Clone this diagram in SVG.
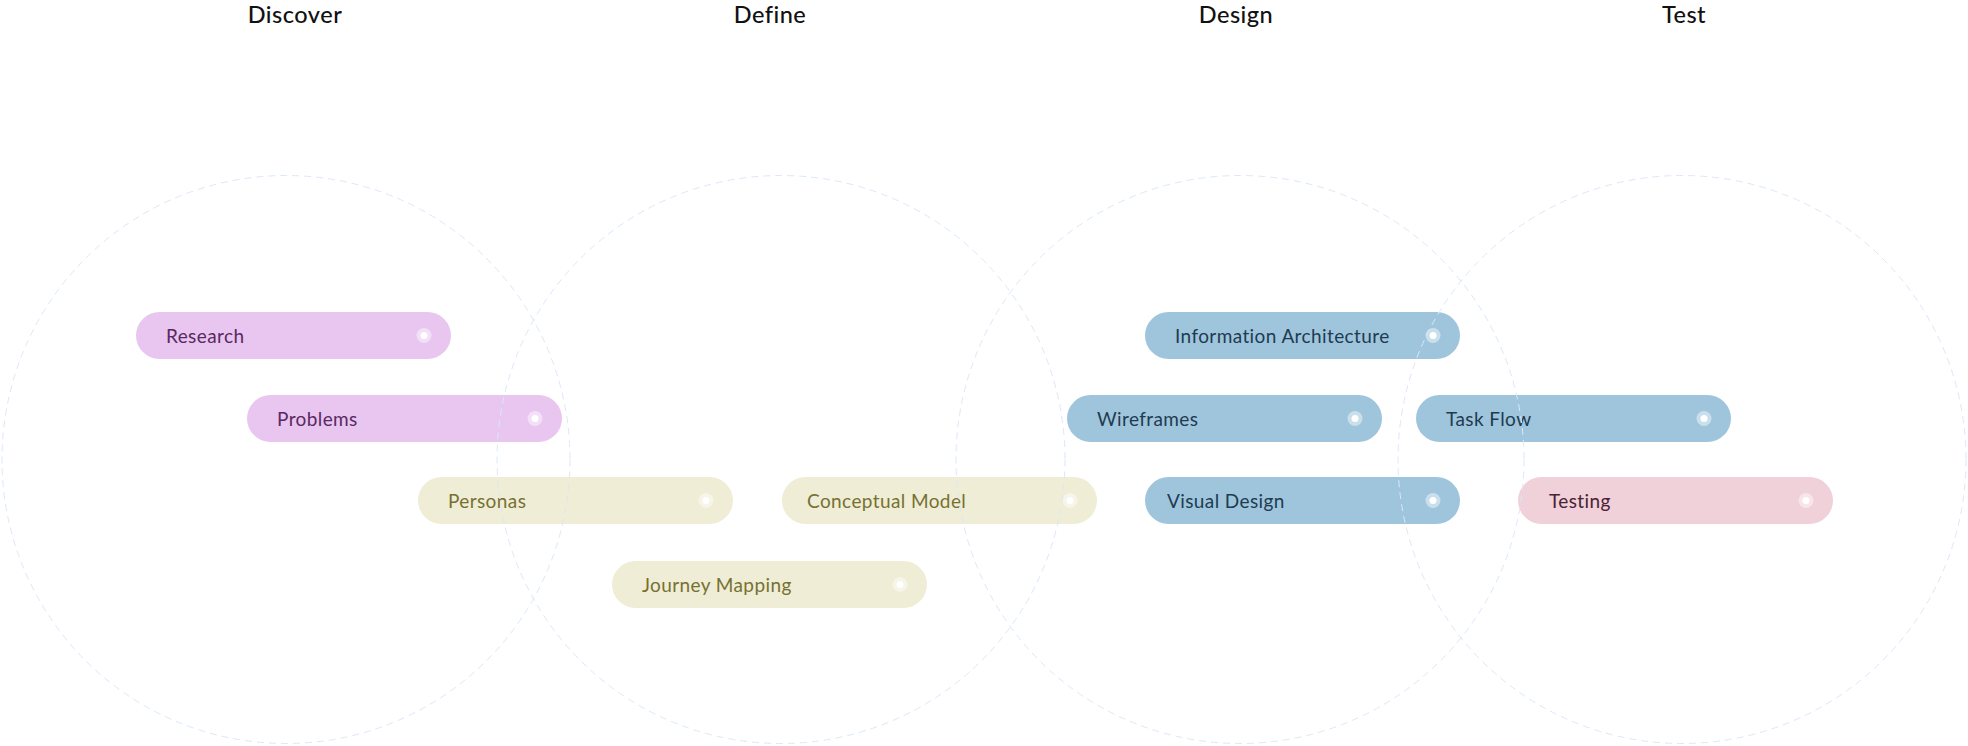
<svg xmlns="http://www.w3.org/2000/svg" width="1968" height="746" viewBox="0 0 1968 746">
<style>
.hdr{font-family:"Lato","Liberation Sans",sans-serif;font-size:23.5px;font-weight:500;letter-spacing:0.5px;fill:#111;text-anchor:middle}
.lbl{font-family:"Lato","Liberation Sans",sans-serif;font-size:19px;letter-spacing:0.4px}
.ring{fill:none;stroke:#dce8f8;stroke-width:1;stroke-dasharray:7 5}
.dotO{fill:#ffffff;fill-opacity:0.45}
.dotI{fill:#ffffff}
.p .bg{fill:#e8c6ef}.p text{fill:#5a2863}
.y .bg{fill:#efedd5}.y text{fill:#767132}
.b .bg{fill:#9fc5dc}.b text{fill:#1e3b52}
.k .bg{fill:#f0d0d9}.k text{fill:#4a2233}
</style>
<rect width="1968" height="746" fill="#ffffff"/>
<g id="headers">
<text class="hdr" x="295" y="23">Discover</text>
<text class="hdr" x="770" y="23">Define</text>
<text class="hdr" x="1236" y="23">Design</text>
<text class="hdr" x="1684" y="23">Test</text>
</g>
<g id="node-research" class="p"><rect class="bg" x="136" y="312" width="315" height="47" rx="23.5"/><text class="lbl" x="166" y="343">Research</text><circle class="dotO" cx="424" cy="335.5" r="7.5"/><circle class="dotI" cx="424" cy="335.5" r="3.5"/></g>
<g id="node-problems" class="p"><rect class="bg" x="247" y="395" width="315" height="47" rx="23.5"/><text class="lbl" x="277" y="426">Problems</text><circle class="dotO" cx="535" cy="418.5" r="7.5"/><circle class="dotI" cx="535" cy="418.5" r="3.5"/></g>
<g id="node-personas" class="y"><rect class="bg" x="418" y="477" width="315" height="47" rx="23.5"/><text class="lbl" x="448" y="508">Personas</text><circle class="dotO" cx="706" cy="500.5" r="7.5"/><circle class="dotI" cx="706" cy="500.5" r="3.5"/></g>
<g id="node-journey" class="y"><rect class="bg" x="612" y="561" width="315" height="47" rx="23.5"/><text class="lbl" x="642" y="592">Journey Mapping</text><circle class="dotO" cx="900" cy="584.5" r="7.5"/><circle class="dotI" cx="900" cy="584.5" r="3.5"/></g>
<g id="node-conceptual" class="y"><rect class="bg" x="782" y="477" width="315" height="47" rx="23.5"/><text class="lbl" x="807" y="508">Conceptual Model</text><circle class="dotO" cx="1070" cy="500.5" r="7.5"/><circle class="dotI" cx="1070" cy="500.5" r="3.5"/></g>
<g id="node-ia" class="b"><rect class="bg" x="1145" y="312" width="315" height="47" rx="23.5"/><text class="lbl" x="1175" y="343">Information Architecture</text><circle class="dotO" cx="1433" cy="335.5" r="7.5"/><circle class="dotI" cx="1433" cy="335.5" r="3.5"/></g>
<g id="node-wireframes" class="b"><rect class="bg" x="1067" y="395" width="315" height="47" rx="23.5"/><text class="lbl" x="1097" y="426">Wireframes</text><circle class="dotO" cx="1355" cy="418.5" r="7.5"/><circle class="dotI" cx="1355" cy="418.5" r="3.5"/></g>
<g id="node-taskflow" class="b"><rect class="bg" x="1416" y="395" width="315" height="47" rx="23.5"/><text class="lbl" x="1446" y="426">Task Flow</text><circle class="dotO" cx="1704" cy="418.5" r="7.5"/><circle class="dotI" cx="1704" cy="418.5" r="3.5"/></g>
<g id="node-visual" class="b"><rect class="bg" x="1145" y="477" width="315" height="47" rx="23.5"/><text class="lbl" x="1167" y="508">Visual Design</text><circle class="dotO" cx="1433" cy="500.5" r="7.5"/><circle class="dotI" cx="1433" cy="500.5" r="3.5"/></g>
<g id="node-testing" class="k"><rect class="bg" x="1518" y="477" width="315" height="47" rx="23.5"/><text class="lbl" x="1549" y="508">Testing</text><circle class="dotO" cx="1806" cy="500.5" r="7.5"/><circle class="dotI" cx="1806" cy="500.5" r="3.5"/></g>
<g id="rings">
<circle class="ring" cx="286" cy="459.5" r="284"/>
<circle class="ring" cx="781" cy="459.5" r="284"/>
<circle class="ring" cx="1240" cy="459.5" r="284"/>
<circle class="ring" cx="1682" cy="459.5" r="284"/>
</g>
<g id="connectors"/>
</svg>
